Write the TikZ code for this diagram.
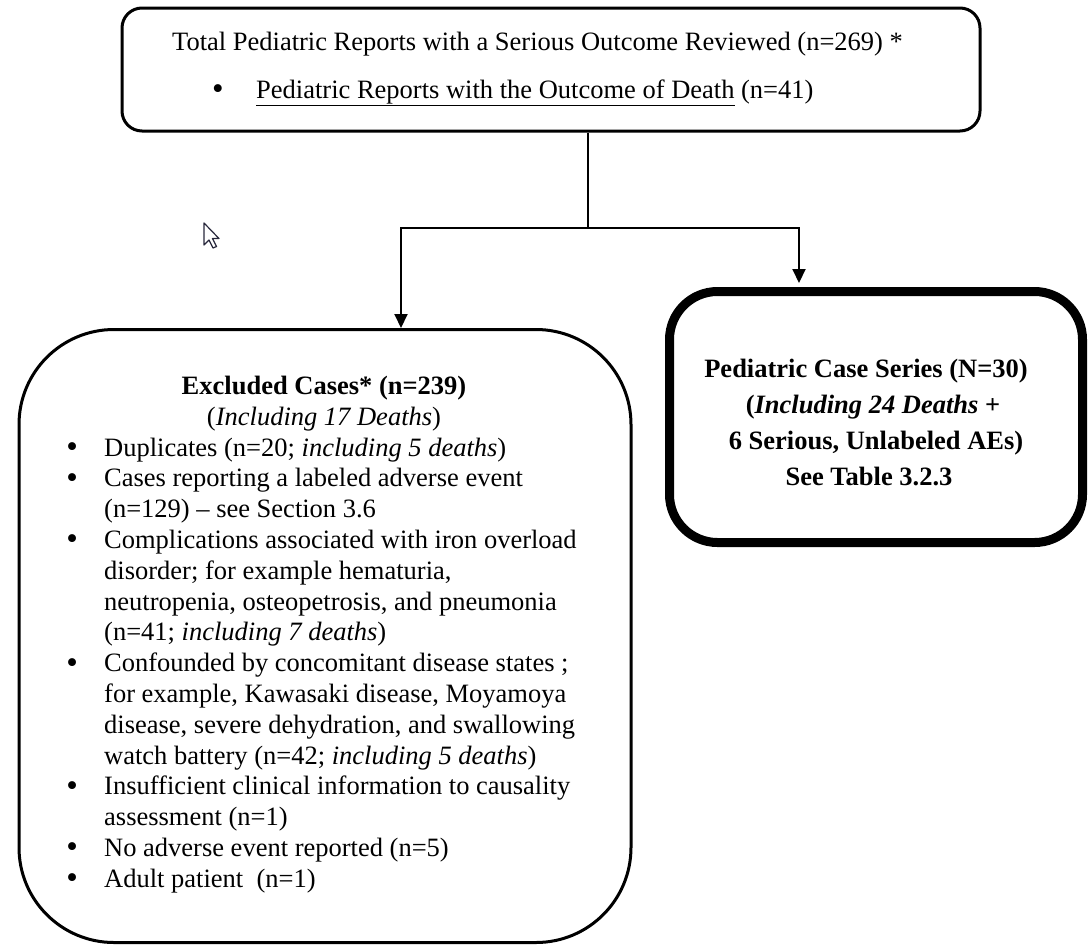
\documentclass[tikz,border=0pt]{standalone}
\usepackage{fontspec}
\setmainfont{Liberation Serif}
\usetikzlibrary{arrows.meta}
\newcommand{\bul}{{\fontsize{33}{30.8}\selectfont\raisebox{-1.5pt}{\textbullet}}}
\begin{document}
\begin{tikzpicture}[x=1pt,y=-1pt,
  txt/.style={font=\fontsize{26.5}{30.8}\selectfont, inner sep=0pt},
  btxt/.style={font=\fontsize{26.5}{36}\selectfont\bfseries, inner sep=0pt, align=center},
  conn/.style={line width=2pt},
  arr/.style={conn,-{Triangle[length=14pt,width=13pt]}},
  boxa/.style={draw, line width=3pt, inner sep=0pt},
]
\useasboundingbox (0,0) rectangle (1089,946);
\fill[white] (0,0) rectangle (1089,946);
% boxes
\node (top) [boxa, rounded corners=20pt, minimum width=858pt, minimum height=123pt] at (551,69.5) {};
\node (left) [boxa, rounded corners=95pt, minimum width=612pt, minimum height=613pt] at (325,636) {};
\node (right) [draw, line width=9pt, inner sep=0pt, rounded corners=48pt, minimum width=413pt, minimum height=251pt] at (876,417) {};
% top texts
\node (t1) [txt, anchor=base west] at (172,50) {Total Pediatric Reports with a Serious Outcome Reviewed (n=269) *};
\node (t2b) [txt, anchor=base] at (218,98) {\bul};
\node (t2) [txt, anchor=base west] at (256,98) {\underline{Pediatric Reports with the Outcome of Death} (n=41)};
% connectors
\coordinate (split) at (588,228);
\coordinate (jl) at (401,228);
\coordinate (jr) at (799,228);
\draw[conn] (top.south -| split) -- (split);
\draw[arr] (split) -- (jl) -- (jl |- left.north);
\draw[arr, shorten >=4pt] (split) -- (jr) -- (jr |- right.north);
% left box texts
\node (lh1) [txt, anchor=base, font=\fontsize{26.5}{30.8}\selectfont\bfseries] at (324,394) {Excluded Cases* (n=239)};
\node (lh2) [txt, anchor=base] at (324,425) {(\textit{Including 17 Deaths})};
\node (list) [txt, anchor=base west] at (67,456) {%
\begin{tabular}[t]{@{}p{37pt}@{}l@{}}
\hspace*{5pt}\makebox[0pt]{\bul} & Duplicates (n=20; \textit{including 5 deaths})\\
\hspace*{5pt}\makebox[0pt]{\bul} & Cases reporting a labeled adverse event\\
 & (n=129) -- see Section 3.6\\
\hspace*{5pt}\makebox[0pt]{\bul} & Complications associated with iron overload\\
 & disorder; for example hematuria,\\
 & neutropenia, osteopetrosis, and pneumonia\\
 & (n=41; \textit{including 7 deaths})\\
\hspace*{5pt}\makebox[0pt]{\bul} & Confounded by concomitant disease states ;\\
 & for example, Kawasaki disease, Moyamoya\\
 & disease, severe dehydration, and swallowing\\
 & watch battery (n=42; \textit{including 5 deaths})\\
\hspace*{5pt}\makebox[0pt]{\bul} & Insufficient clinical information to causality\\
 & assessment (n=1)\\
\hspace*{5pt}\makebox[0pt]{\bul} & No adverse event reported (n=5)\\
\hspace*{5pt}\makebox[0pt]{\bul} & Adult patient~ (n=1)
\end{tabular}};
% right box texts
\node (r1) [btxt, anchor=base] at (866,377) {Pediatric Case Series (N=30)};
\node (r2) [btxt, anchor=base] at (873,413) {(\textit{Including 24 Deaths} +};
\node (r3) [btxt, anchor=base] at (876,449) {6 Serious, Unlabeled AEs)};
\node (r4) [btxt, anchor=base] at (869,485) {See Table 3.2.3};
% mouse cursor
\draw[line width=1.2pt, fill=white, line join=round, draw={rgb,255:red,40;green,40;blue,60}]
  (204,223) -- (204,245) -- (209,240) -- (213,248) -- (216.5,246.5) -- (212.5,238.5) -- (219,238.5) -- cycle;
\end{tikzpicture}
\end{document}
